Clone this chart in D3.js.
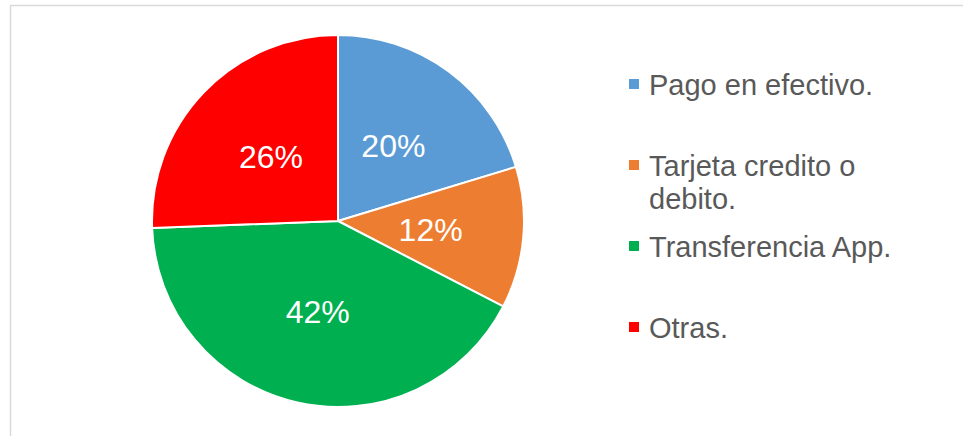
<!DOCTYPE html>
<html>
<head>
<meta charset="utf-8">
<script src="https://cdn.jsdelivr.net/npm/d3@7"></script>
<style>
  body { margin: 0; background: #fff; }
  svg { display: block; font-family: 'Liberation Sans', Arial, sans-serif; }
</style>
</head>
<body>
<div id="chart"></div>
<script>
const categories = ['Pago en efectivo.', 'Tarjeta credito o debito.', 'Transferencia App.', 'Otras.']
const legendLines = [['Pago en efectivo.'], ['Tarjeta credito o', 'debito.'], ['Transferencia App.'], ['Otras.']]
const values = [20.3, 12.3, 41.8, 25.6]
const colors = ['#5B9BD5', '#ED7D31', '#00B050', '#FF0000']

const width = 963
const height = 436
const cx = 338
const cy = 221
const radius = 186

const svg = d3.select('#chart').append('svg')
  .attr('width', width)
  .attr('height', height)

// chart area frame (only top and left edges are visible)
svg.append('rect')
  .attr('x', 10.5)
  .attr('y', 5.5)
  .attr('width', 1000)
  .attr('height', 1000)
  .attr('fill', 'none')
  .attr('stroke', '#d9d9d9')
  .attr('stroke-width', 1.5)

const total = d3.sum(values)
const color = d3.scaleOrdinal().domain(categories).range(colors)

const pie = d3.pie().sort(null).value(d => d.value)
const arcs = pie(categories.map((c, i) => ({ name: c, value: values[i] })))

const arc = d3.arc().innerRadius(0).outerRadius(radius)
const labelArc = d3.arc().innerRadius(93).outerRadius(93)

const g = svg.append('g')
  .attr('transform', `translate(${cx},${cy})`)

g.selectAll('path')
  .data(arcs)
  .enter().append('path')
  .attr('d', arc)
  .attr('fill', d => color(d.data.name))
  .attr('stroke', '#fff')
  .attr('stroke-width', 2)
  .attr('stroke-linejoin', 'round')

const pct = d3.format('.0%')

g.selectAll('text')
  .data(arcs)
  .enter().append('text')
  .attr('transform', d => `translate(${labelArc.centroid(d)})`)
  .attr('text-anchor', 'middle')
  .attr('dy', '0.35em')
  .attr('fill', '#fff')
  .attr('font-size', 32)
  .text(d => pct(d.data.value / total))

// legend
const legend = svg.append('g')
  .attr('transform', 'translate(629,84)')

const item = legend.selectAll('g')
  .data(categories)
  .enter().append('g')
  .attr('transform', (d, i) => `translate(0,${i * 81})`)

item.append('rect')
  .attr('x', 0)
  .attr('y', -5)
  .attr('width', 10)
  .attr('height', 10)
  .attr('fill', d => color(d))

item.append('text')
  .attr('x', 20)
  .attr('fill', '#595959')
  .attr('font-size', 29)
  .selectAll('tspan')
  .data((d, i) => legendLines[i])
  .enter().append('tspan')
  .attr('x', 20)
  .attr('y', (d, j) => 10.5 + j * 33.5)
  .text(d => d)
</script>
</body>
</html>
